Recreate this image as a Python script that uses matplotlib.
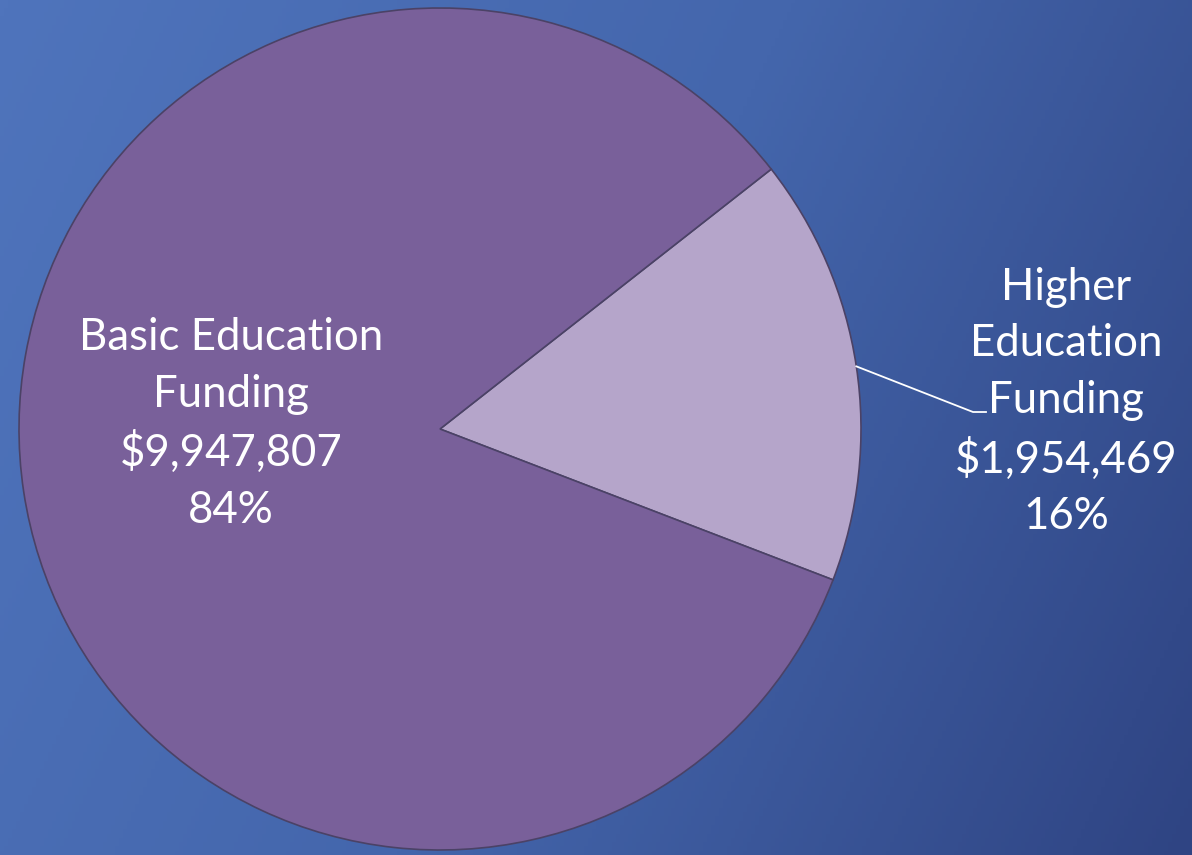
import numpy as np
import matplotlib
matplotlib.use("Agg")
import matplotlib.pyplot as plt
from matplotlib.colors import LinearSegmentedColormap

# data
categories = ["Higher\nEducation\nFunding", "Basic Education\nFunding"]
amounts = [1954469, 9947807]
percents = ["16%", "84%"]
colors = ["#b5a5ca", "#79609a"]

W, H = 1192, 855
fig = plt.figure(figsize=(W / 100, H / 100), dpi=100)
ax = fig.add_axes([0, 0, 1, 1])

# background gradient (lighter top-left, darker right)
xx, yy = np.meshgrid(np.linspace(0, 1, 300), np.linspace(0, 1, 200))
g = 0.75 * xx + 0.25 * yy
bg = LinearSegmentedColormap.from_list("bg", ["#4f74bc", "#4466ac", "#2f4483"])
ax.imshow(g, cmap=bg, extent=(0, W, 0, H), aspect="auto", origin="upper", zorder=0)

cx, cy, r = 440, 426, 421
wedges, _ = ax.pie(amounts, colors=colors, startangle=-21, counterclock=True,
                   center=(cx, cy), radius=r,
                   wedgeprops=dict(edgecolor="#4b4266", linewidth=1.2))
for w in wedges:
    w.set_zorder(2)

ax.set_xlim(0, W)
ax.set_ylim(0, H)
ax.set_aspect("equal")
ax.axis("off")

font = ["Lato", "DejaVu Sans"]

# Basic Education label inside the pie
ax.text(231, H - 424, f"{categories[1]}\n${amounts[1]:,}\n{percents[1]}",
        ha="center", va="center", color="white", fontsize=31.5,
        family=font, linespacing=1.47, zorder=3)

# Higher Education label outside with leader line
ax.text(1066, H - 402, f"{categories[0]}\n${amounts[0]:,}\n{percents[0]}",
        ha="center", va="center", color="white", fontsize=31.5,
        family=font, linespacing=1.47, zorder=3)

w0 = wedges[0]
mid = np.deg2rad((w0.theta1 + w0.theta2) / 2)
x0, y0 = cx + r * np.cos(mid), cy + r * np.sin(mid)
ax.plot([x0, 973, 986], [y0, H - 412, H - 412], color="white", lw=1.3, zorder=3)

fig.savefig("out.png", dpi=100)
